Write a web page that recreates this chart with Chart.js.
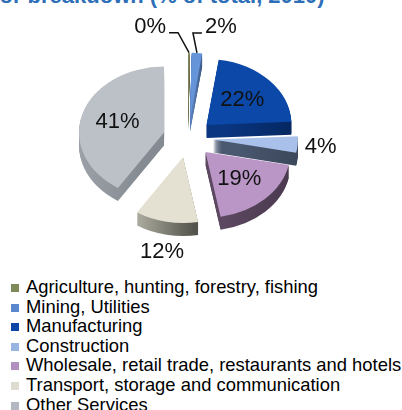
<!DOCTYPE html>
<html>
<head>
<meta charset="utf-8">
<script src="https://cdn.jsdelivr.net/npm/chart.js@4"></script>
<style>
  html, body { margin: 0; padding: 0; width: 402px; height: 410px; overflow: hidden; background: #fff; font-family: "Liberation Sans", Arial, sans-serif; }
  #title { position: absolute; left: -47px; top: -15px; font-size: 22px; line-height: 22px; font-weight: bold; color: #2e6fb8; white-space: nowrap; }
  #wrap { position: absolute; left: 0; top: 0; width: 402px; height: 276px; }
  #legend { position: absolute; left: 11px; top: 277px; font-size: 18.4px; color: #000; }
  #legend div { height: 19.6px; line-height: 19.6px; white-space: nowrap; }
  #legend span { display: inline-block; width: 8px; height: 8px; margin-right: 7px; vertical-align: 1px; }
</style>
</head>
<body>
<div id="title">Sector breakdown (% of total, 2010)</div>
<div id="wrap"><canvas id="pieChart"></canvas></div>
<div id="legend"></div>
<script>
const categories = [
  'Agriculture, hunting, forestry, fishing',
  'Mining, Utilities',
  'Manufacturing',
  'Construction',
  'Wholesale, retail trade, restaurants and hotels',
  'Transport, storage and communication',
  'Other Services'
];
const shares = [0.3, 2, 22, 4, 19, 12, 41];   // % of total

const topColors    = ['#858b60', '#6594d8', '#0b48a8', '#a9c1ea', '#b996c6', '#e4e1d2', '#bcc1c8'];
const sideLight    = ['#6a7050', '#5a7fb8', '#0a3580', '#4a5870', '#5c4860', '#b4b3a6', '#a3a9af'];
const sideDark     = ['#4a5035', '#34507c', '#04245a', '#343f50', '#45354a', '#55544c', '#858b92'];
const legendColors = ['#7f8a5a', '#5b88cc', '#0c45a6', '#98b4e0', '#b18fbf', '#dedbd0', '#b2b8bf'];

const TILT = 0.776;   // vertical squash of the pie
const DEPTH = 13;     // thickness in px
const EXPLODE = 25;   // slice explosion in px

// legend (one item per line, like the original)
const legend = document.getElementById('legend');
categories.forEach((c, i) => {
  const row = document.createElement('div');
  row.innerHTML = `<span style="background:${legendColors[i]}"></span>${c}`;
  legend.appendChild(row);
});

// horizontal extent of an exploded slice
function sliceExtent(el) {
  const mid = (el.startAngle + el.endAngle) / 2;
  const ox = el.x + Math.cos(mid) * EXPLODE;
  let lo = ox, hi = ox;
  for (let k = 0; k <= 20; k++) {
    const a = el.startAngle + (el.endAngle - el.startAngle) * k / 20;
    const x = ox + Math.cos(a) * el.outerRadius;
    lo = Math.min(lo, x);
    hi = Math.max(hi, x);
  }
  return [lo, hi];
}

const pie3d = {
  id: 'pie3d',
  beforeDatasetsDraw(chart) {
    const ctx = chart.ctx;
    const arcs = chart.getDatasetMeta(0).data;
    const sideFill = arcs.map((el, i) => {
      const [lo, hi] = sliceExtent(el);
      const g = ctx.createLinearGradient(lo, 0, hi + 1, 0);
      g.addColorStop(0, sideLight[i]);
      g.addColorStop(1, sideDark[i]);
      return g;
    });
    const drawLayer = (dy, fills) => {
      arcs.forEach((el, i) => {
        const mid = (el.startAngle + el.endAngle) / 2;
        const orig = el.options;
        el.options = Object.assign({}, orig, {backgroundColor: fills[i], borderColor: fills[i]});
        ctx.save();
        ctx.translate(el.x, el.y + dy);
        ctx.scale(1, TILT);
        ctx.translate(-el.x, -el.y);
        ctx.translate(Math.cos(mid) * EXPLODE, Math.sin(mid) * EXPLODE);
        el.draw(ctx);
        ctx.restore();
        el.options = orig;
      });
    };
    for (let d = DEPTH; d > 0; d--) drawLayer(d, sideFill);
    drawLayer(0, topColors);
    return false;
  },
  afterDraw(chart) {
    const ctx = chart.ctx;
    const arcs = chart.getDatasetMeta(0).data;
    const total = shares.reduce((a, b) => a + b, 0);
    ctx.save();
    ctx.font = '22px "Liberation Sans", Arial, sans-serif';
    ctx.fillStyle = '#111';
    ctx.strokeStyle = '#111';
    ctx.lineWidth = 1.5;
    ctx.textBaseline = 'middle';
    let small = 0;
    arcs.forEach((el, i) => {
      const pct = shares[i] / total * 100;
      const text = Math.round(pct) + '%';
      const R = el.outerRadius;
      const mid = (el.startAngle + el.endAngle) / 2;
      const ax = el.x + Math.cos(mid) * EXPLODE;
      const ay = el.y + Math.sin(mid) * EXPLODE * TILT;
      const at = r => [ax + Math.cos(mid) * r, ay + Math.sin(mid) * r * TILT];
      if (pct >= 15) {
        const [x, y] = at(R * 0.57);
        ctx.textAlign = 'center';
        ctx.fillText(text, x, y);
      } else if (pct >= 3) {
        let [x, y] = at(R * 1.27);
        y += DEPTH * Math.max(0, Math.sin(mid));
        ctx.textAlign = 'center';
        ctx.fillText(text, x, y);
      } else {
        const side = small++ % 2 ? 1 : -1;
        const [x0, y0] = at(R);
        const ex = x0 + (side < 0 ? -11 : -4);
        const ey = y0 - 20;
        const tx = ex + side * 9;
        ctx.beginPath();
        ctx.moveTo(x0, y0);
        ctx.lineTo(ex, ey);
        ctx.lineTo(tx, ey);
        ctx.stroke();
        ctx.textAlign = side < 0 ? 'right' : 'left';
        ctx.fillText(text, tx + side * 3, ey - 6);
      }
    });
    ctx.restore();
  }
};

new Chart(document.getElementById('pieChart'), {
  type: 'pie',
  data: {
    labels: categories,
    datasets: [{
      data: shares,
      backgroundColor: topColors,
      borderWidth: 0,
      radius: 85
    }]
  },
  options: {
    responsive: true,
    maintainAspectRatio: false,
    animation: false,
    events: [],
    layout: { padding: { left: 0, right: 26, top: 0, bottom: 0 } },
    plugins: {
      legend: { display: false },
      tooltip: { enabled: false },
      title: { display: false }
    }
  },
  plugins: [pie3d]
});
</script>
</body>
</html>
